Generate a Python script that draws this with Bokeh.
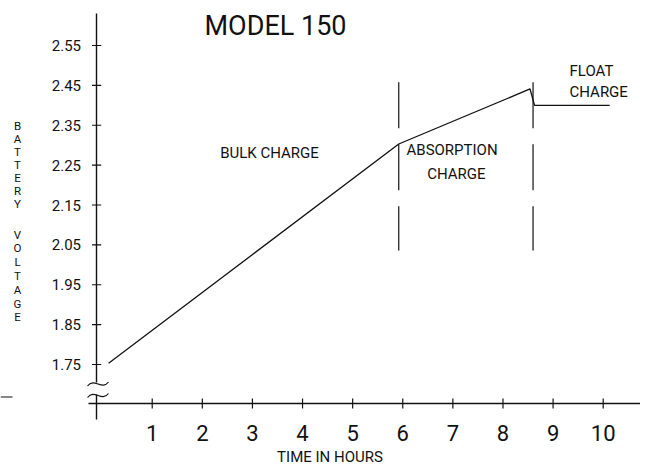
from bokeh.plotting import figure
from bokeh.models import Range1d
from bokeh.core.properties import value
from bokeh.embed import file_html
from bokeh.resources import INLINE

# ---- data ----
hours = [0.13, 5.92, 8.54, 8.63, 10.13]
volts = [1.753, 2.303, 2.441, 2.400, 2.400]
phase_bounds = [5.92, 8.6]
x_ticks = [1, 2, 3, 4, 5, 6, 7, 8, 9, 10]
x_tick_labels = ["1", "2", "3", "4", "5", "6", "7", "8", "9", "10"]
y_ticks = [1.75, 1.85, 1.95, 2.05, 2.15, 2.25, 2.35, 2.45, 2.55]
y_tick_labels = ["1.75", "1.85", "1.95", "2.05", "2.15", "2.25", "2.35", "2.45", "2.55"]
title_text = "MODEL 150"
x_title = "TIME IN HOURS"
y_title_words = ["BATTERY", "VOLTAGE"]

# ---- layout helpers (screen pixels -> data) ----
W, H = 640, 466
X0PX, XS = 101.6, 50.11
Y0PX, YS = 364.0, 398.75
def dx(px):
    return (px - X0PX) / XS
def dy(py):
    return 1.75 + (Y0PX - py) / YS

FONT = value("Roboto")
INK = "#111111"

p = figure(width=W, height=H, output_backend="svg", toolbar_location=None,
           x_range=Range1d(dx(0), dx(W)), y_range=Range1d(dy(H), dy(0)),
           x_axis_type=None, y_axis_type=None, min_border=0)
p.grid.visible = False
p.outline_line_color = None
p.background_fill_color = "white"
p.border_fill_color = "white"

# y axis line with break
p.segment(x0=[dx(96), dx(96)], y0=[dy(13), dy(394)], x1=[dx(96), dx(96)], y1=[dy(382), dy(419)],
          line_color=INK, line_width=1.4)
# break marks
for c in [383.5, 395.0]:
    p.bezier(x0=[dx(87)], y0=[dy(c + 2)], x1=[dx(108)], y1=[dy(c - 2)],
             cx0=[dx(94)], cy0=[dy(c - 7)], cx1=[dx(101)], cy1=[dy(c + 7)],
             line_color=INK, line_width=1.2)
# x axis line
p.segment(x0=[dx(88)], y0=[dy(403)], x1=[dx(640)], y1=[dy(403)], line_color=INK, line_width=1.4)
# stray dash at far left
p.segment(x0=[dx(0)], y0=[dy(396.5)], x1=[dx(12)], y1=[dy(396.5)], line_color=INK, line_width=1.2)

# ticks
p.segment(x0=x_ticks, y0=[dy(398)] * len(x_ticks), x1=x_ticks, y1=[dy(408)] * len(x_ticks),
          line_color=INK, line_width=1.2)
p.segment(x0=[dx(91.5)] * len(y_ticks), y0=y_ticks, x1=[dx(100.7)] * len(y_ticks), y1=y_ticks,
          line_color=INK, line_width=1.2)

# tick labels
p.text(x=x_ticks, y=[dy(432)] * len(x_ticks), text=x_tick_labels, text_font=FONT,
       text_font_size="22px", text_align="center", text_baseline="middle", text_color=INK)
p.text(x=[dx(80.5)] * len(y_ticks), y=y_ticks, text=y_tick_labels, text_font=FONT,
       text_font_size="15px", text_align="right", text_baseline="middle", text_color=INK)

# axis titles
p.text(x=[dx(329.5)], y=[dy(456)], text=[x_title], text_font=FONT, text_font_size="15px",
       text_align="center", text_baseline="middle", text_color=INK)
letters, lx, ly = [], [], []
for word, start, step in zip(y_title_words, [125.5, 234.0], [13.0, 13.8]):
    for i, ch in enumerate(word):
        letters.append(ch)
        lx.append(dx(17))
        ly.append(dy(start + i * step))
p.text(x=lx, y=ly, text=letters, text_font=FONT, text_font_size="11.5px",
       text_align="center", text_baseline="middle", text_color=INK)

# title
p.text(x=[dx(275)], y=[dy(25)], text=[title_text], text_font=FONT, text_font_size="27px",
       text_align="center", text_baseline="middle", text_color=INK)

# phase boundaries (dashed verticals)
p.segment(x0=phase_bounds, y0=[dy(81.7)] * 2, x1=phase_bounds, y1=[dy(250)] * 2,
          line_color=INK, line_width=1.2, line_dash="46 16")

# charge curve
p.line(hours, volts, line_color=INK, line_width=1.3)

# region labels
LBL = dict(text_font=FONT, text_font_size="15px", text_baseline="middle", text_color=INK)
p.text(x=[dx(269)], y=[dy(152)], text=["BULK CHARGE"], text_align="center", **LBL)
p.text(x=[dx(406)], y=[dy(149)], text=["ABSORPTION"], text_align="left", **LBL)
p.text(x=[dx(485)], y=[dy(173)], text=["CHARGE"], text_align="right", **LBL)
p.text(x=[dx(569)], y=[dy(70)], text=["FLOAT"], text_align="left", **LBL)
p.text(x=[dx(569)], y=[dy(91)], text=["CHARGE"], text_align="left", **LBL)

open("out.html", "w").write(file_html(p, INLINE))
